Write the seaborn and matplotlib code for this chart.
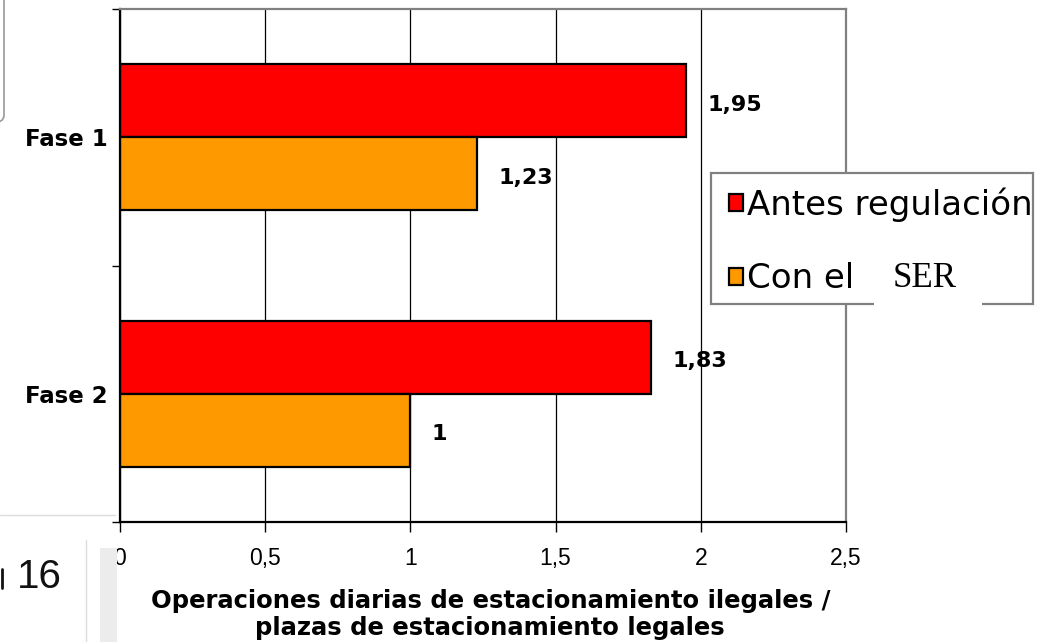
import matplotlib
matplotlib.use("Agg")
import matplotlib.pyplot as plt
import seaborn as sns
import pandas as pd
from matplotlib.patches import Rectangle, FancyBboxPatch
from matplotlib.lines import Line2D

# ---- data ----
fases = ["Fase 1", "Fase 2"]
series = ["Antes regulación", "Con el SER"]
antes = [1.95, 1.83]
con_ser = [1.23, 1.00]
x_ticks = [0, 0.5, 1, 1.5, 2, 2.5]
x_tick_labels = ["0", "0,5", "1", "1,5", "2", "2,5"]
colors = ["#FF0000", "#FF9900"]
xlabel = "Operaciones diarias de estacionamiento ilegales /\nplazas de estacionamiento legales"
legend_labels = ["Antes regulación", "Con el"]
legend_tail = "SER"

df = pd.DataFrame({
    "fase": fases * 2,
    "serie": [series[0]] * 2 + [series[1]] * 2,
    "valor": antes + con_ser,
})

sns.set_theme(style="white")
plt.rcParams["font.family"] = ["Liberation Sans", "DejaVu Sans"]
for k in ["text.color", "axes.labelcolor", "xtick.color", "ytick.color"]:
    plt.rcParams[k] = "black"

BOLD = ["DejaVu Sans"]

W, H = 1053, 642
fig = plt.figure(figsize=(W / 100, H / 100), dpi=100)
ax = fig.add_axes([120 / W, 1 - 522 / H, (846 - 120) / W, (522 - 9) / H])

sns.barplot(data=df, y="fase", x="valor", hue="serie", orient="h",
            palette=colors, edgecolor="black", linewidth=1.6,
            width=0.568, ax=ax, legend=True, saturation=1)

ax.set_xlim(0, 2.5)
ax.set_ylim(1.5, -0.5)
ax.set_xticks(x_ticks)
ax.set_xticklabels(x_tick_labels, fontsize=16.5, color="black")
ax.set_yticks([0, 1])
ax.set_yticklabels(fases, fontsize=16.5, fontweight="bold", family=BOLD, color="black")
ax.set_yticks([-0.5, 0.5, 1.5], minor=True)
ax.tick_params(axis="y", which="major", length=0, pad=9)
ax.tick_params(axis="y", which="minor", length=6, width=1, direction="out", color="black", left=True)
ax.tick_params(axis="x", which="major", length=7, width=1, direction="out", pad=11, color="black", bottom=True)
ax.set_ylabel("")
ax.set_xlabel(xlabel, fontsize=17.5, fontweight="bold", family=BOLD, labelpad=14,
              linespacing=1.14, color="black")
ax.xaxis.label.set_x(0.51)

ax.grid(axis="x", color="black", linewidth=0.9)
ax.set_axisbelow(True)
for s in ["top", "right"]:
    ax.spines[s].set_color("#808080")
    ax.spines[s].set_linewidth(1.6)
for s in ["left", "bottom"]:
    ax.spines[s].set_color("black")
    ax.spines[s].set_linewidth(1.6)

for cont in ax.containers:
    labels = [f"{w:g}".replace(".", ",") for w in cont.datavalues]
    anns = ax.bar_label(cont, labels=labels, padding=15, fontsize=16,
                        fontweight="bold", family=BOLD, color="black")
    for a in anns:
        a.xyann = (15, -3)

# legend (frame drawn separately so it can be sized like the original)
handles, labs = ax.get_legend_handles_labels()
ax.get_legend().remove()
fig.add_artist(Rectangle((711 / W, 1 - 304 / H), (1033 - 711) / W, (304 - 173) / H,
                         transform=fig.transFigure, facecolor="white",
                         edgecolor="#808080", linewidth=1.6, zorder=5))
leg = fig.legend(handles, legend_labels,
                 loc="upper left", bbox_to_anchor=(729 / W, 1 - 187 / H),
                 borderaxespad=0, borderpad=0, frameon=False,
                 prop={"family": "DejaVu Sans", "size": 24.5},
                 handlelength=0.4, handleheight=0.4,
                 handletextpad=0.12, labelspacing=1.2)
leg.set_zorder(6)
for h in leg.legend_handles:
    h.set_edgecolor("black")
    h.set_linewidth(1.6)
fig.add_artist(Rectangle((874 / W, 1 - 311 / H), 108 / W, 14 / H,
                         transform=fig.transFigure, facecolor="white",
                         edgecolor="none", zorder=10))
fig.text(893 / W, 1 - 287 / H, legend_tail, fontsize=25, family=["Liberation Serif"],
         color="black", ha="left", va="baseline", zorder=11)

# screenshot leftovers around the chart
fig.add_artist(FancyBboxPatch((-60 / W, 1 - 123 / H), 64 / W, 140 / H,
                              boxstyle="round,pad=0,rounding_size=0.012",
                              transform=fig.transFigure, facecolor="none",
                              edgecolor="#999999", linewidth=1.2))
fig.add_artist(Line2D([0, 115 / W], [1 - 515 / H] * 2, transform=fig.transFigure,
                      color="#dddddd", linewidth=1))
fig.add_artist(Line2D([86 / W] * 2, [0, 1 - 540 / H], transform=fig.transFigure,
                      color="#dddddd", linewidth=1))
fig.add_artist(Rectangle((100 / W, 0), 17 / W, 1 - 548 / H,
                         transform=fig.transFigure, facecolor="#ececec",
                         edgecolor="none"))
fig.add_artist(Line2D([1.5 / W] * 2, [1 - 588 / H, 1 - 569 / H], transform=fig.transFigure,
                      color="#111111", linewidth=2))
fig.text(17 / W, 1 - 588 / H, "16", fontsize=29, color="#111111",
         ha="left", va="baseline")

fig.savefig("out.png", dpi=100)
